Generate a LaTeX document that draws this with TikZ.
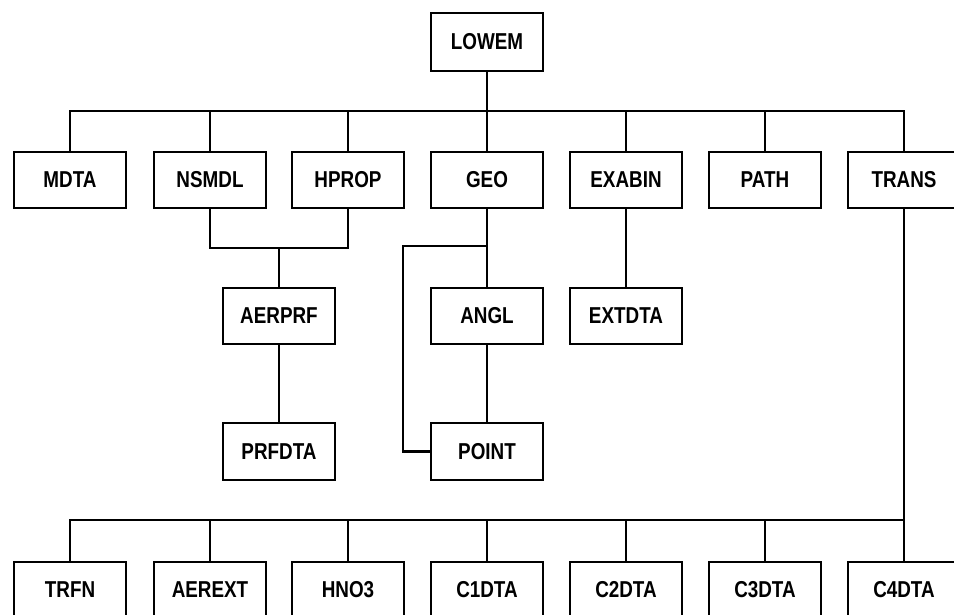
\documentclass[tikz,border=0pt]{standalone}
\usepackage{fontspec}
\setmainfont{Liberation Sans}[FakeStretch=0.82]
\begin{document}
\begin{tikzpicture}[x=1pt,y=-1pt,
  box/.style={draw,line width=2.8pt,minimum width=112pt,minimum height=56pt,inner sep=0pt,
    font=\fontsize{23}{23}\selectfont\bfseries},
  wire/.style={line width=2.8pt}]
\useasboundingbox (0,0) rectangle (954,614);
\fill[white] (0,0) rectangle (954,614);
% nodes
\node[box,minimum height=58pt] (lowem) at (487,42) {LOWEM};
\node[box] (mdta)   at (70,180)  {MDTA};
\node[box] (nsmdl)  at (210,180) {NSMDL};
\node[box] (hprop)  at (348,180) {HPROP};
\node[box] (geo)    at (487,180) {GEO};
\node[box] (exabin) at (626,180) {EXABIN};
\node[box] (path)   at (765,180) {PATH};
\node[box] (trans)  at (904,180) {TRANS};
\node[box] (aerprf) at (279,316) {AERPRF};
\node[box] (angl)   at (487,316) {ANGL};
\node[box] (extdta) at (626,316) {EXTDTA};
\node[box,minimum height=57pt] (prfdta) at (279,451.5) {PRFDTA};
\node[box,minimum height=57pt] (point)  at (487,451.5) {POINT};
\node[box] (trfn)   at (70,590)  {TRFN};
\node[box] (aerext) at (210,590) {AEREXT};
\node[box] (hno)    at (348,590) {HNO3};
\node[box] (cone)   at (487,590) {C1DTA};
\node[box] (ctwo)   at (626,590) {C2DTA};
\node[box] (cthree) at (765,590) {C3DTA};
\node[box] (cfour)  at (904,590) {C4DTA};
% bus coordinates
\coordinate (bus1) at (0,111);
\coordinate (join) at (0,248);
\coordinate (gl) at (403,246);
\coordinate (bus2) at (0,520);
% top level
\draw[wire] (lowem.south) -- (lowem.south |- bus1);
\draw[wire] (mdta.north) -- (mdta.north |- bus1) -- (trans.north |- bus1) -- (trans.north);
\foreach \n in {nsmdl,hprop,geo,exabin,path}
  \draw[wire] (\n.north) -- (\n.north |- bus1);
% NSMDL/HPROP -> AERPRF
\draw[wire] (nsmdl.south) -- (nsmdl.south |- join) -- (hprop.south |- join) -- (hprop.south);
\draw[wire] (aerprf.north) -- (aerprf.north |- join);
\draw[wire] (aerprf) -- (prfdta);
% GEO
\draw[wire] (geo) -- (angl);
\draw[wire] (angl) -- (point);
\draw[wire] (geo.south |- gl) -- (gl) |- (point.west);
% EXABIN
\draw[wire] (exabin) -- (extdta);
% TRANS
\draw[wire] (trans.south) -- (cfour.north);
\draw[wire] (trfn.north) -- (trfn.north |- bus2) -- (cfour.north |- bus2);
\foreach \n in {aerext,hno,cone,ctwo,cthree}
  \draw[wire] (\n.north) -- (\n.north |- bus2);
\end{tikzpicture}
\end{document}
